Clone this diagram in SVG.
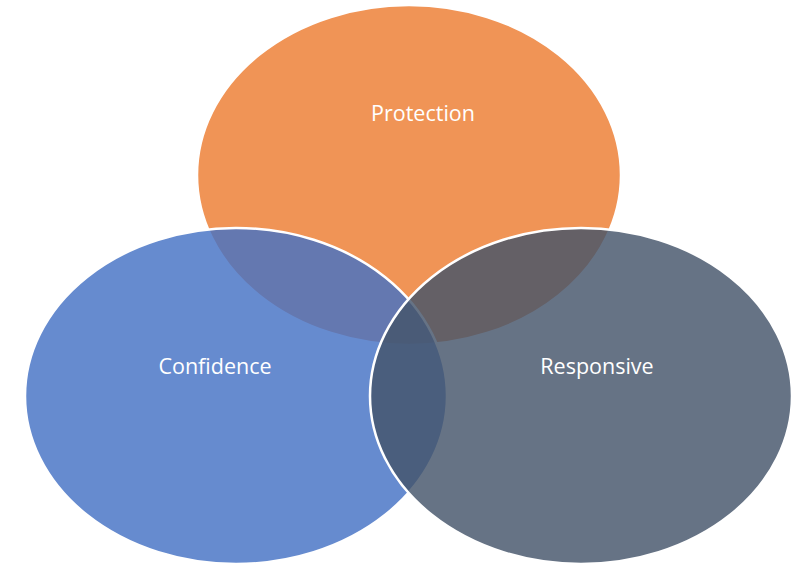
<svg xmlns="http://www.w3.org/2000/svg" width="805" height="564" viewBox="0 0 805 564">
<style>
.c{stroke:#fff;stroke-width:2.5;fill-opacity:0.82}
.t{font-family:"Open Sans","Noto Sans",sans-serif;font-size:21.5px;fill:#fff;text-anchor:middle}
</style>
<rect width="805" height="564" fill="#fff"/>
<g id="protection">
<ellipse class="c" cx="409" cy="175" rx="212" ry="170" fill="#ED7D31"/>
<text class="t" x="423" y="121">Protection</text>
</g>
<g id="confidence">
<ellipse class="c" cx="236" cy="396" rx="211" ry="168" fill="#4472C4"/>
<text class="t" x="215" y="374">Confidence</text>
</g>
<g id="responsive">
<ellipse class="c" cx="581" cy="396" rx="211" ry="168" fill="#44546A"/>
<text class="t" x="597" y="374">Responsive</text>
</g>
<g id="connectors"></g>
</svg>
